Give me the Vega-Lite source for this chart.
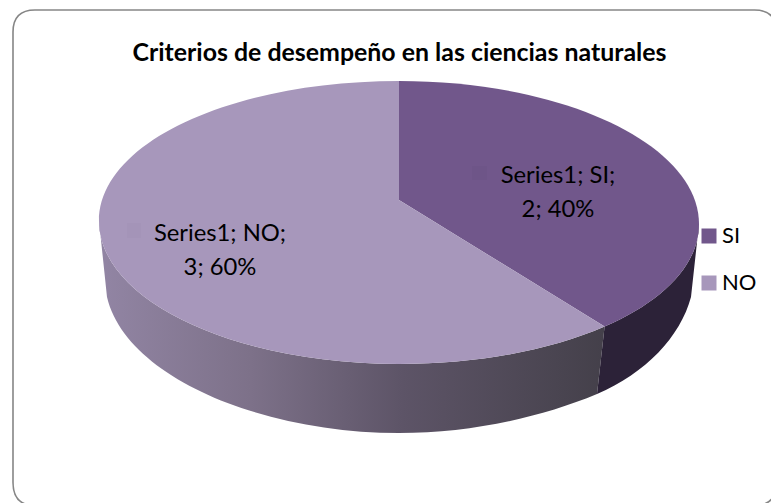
{
"$schema":"https://vega.github.io/schema/vega-lite/v6.json",
"width":771,"height":503,"padding":0,"autosize":{"type":"none"},"background":"white",
"title":{"text":"Criterios de desempeño en las ciencias naturales","font":"Lato","fontSize":24.9,"fontWeight":"bold","color":"#000000","anchor":"middle","frame":"group","dx":14,"offset":-91,"baseline":"bottom"},
"config":{"view":{"stroke":null},"axis":{"disable":true}},
"data":{"values":[
{"category":"SI","value":2,"label":["Series1; SI;","2; 40%"]},
{"category":"NO","value":3,"label":["Series1; NO;","3; 60%"]}
]},
"layer":[
{"data":{"values":[{"part":"frame"}]},"mark":{"type":"point","size":4,"filled":false,"opacity":1,"stroke":"#868686","strokeWidth":1.6,"shape":"M-372.5,-219.5 Q-372.5,-241.5 -350.5,-241.5 L369,-241.5 Q391,-241.5 391,-219.5 L391,231 Q391,254 369,254 L-350.5,254 Q-372.5,254 -372.5,231 Z"},"encoding":{}},
{"mark":{"type":"point","size":1,"filled":true,"opacity":1},
 "encoding":{
  "color":{"field":"category","type":"nominal","sort":["SI","NO"],"scale":{"domain":["SI","NO"],"range":["#71578b","#a797bb"]},
   "legend":{"title":null,"orient":"none","legendX":698,"legendY":225,"symbolType":"square","symbolSize":225,"symbolStrokeWidth":0,"labelFont":"Lato","labelFontSize":22,"labelColor":"#000000","labelOffset":2,"rowPadding":25,"labelLimit":100}}
 }},
{"transform":[{"filter":"datum.category==='NO'"}],"mark":{"type":"point","size":4,"filled":true,"opacity":1,"fill":{"gradient":"linear","x1":0,"y1":0,"x2":1,"y2":0,"stops":[{"offset":0,"color":"#9285a4"},{"offset":0.3,"color":"#7d7189"},{"offset":0.6,"color":"#5d5467"},{"offset":1,"color":"#44404a"}]},"shape":"M219.1,75.1 C165.5,98.5 93.2,112.5 13.5,112.5 C-152.5,112.5 -286.5,48.5 -286.5,-30.5 L-278.5,45.5 C-260,125 -125,181.5 13.5,181.5 C85,181.5 155,166 211.5,142.5 Z"},"encoding":{}},
{"transform":[{"filter":"datum.category==='SI'"}],"mark":{"type":"point","size":4,"filled":true,"opacity":1,"fill":"#2c2238","shape":"M313.5,-27.5 C313.5,13.6 277.3,49.8 219.1,75.1 L211.5,142.5 C260,122 295,85 305.5,45.5 Z"},"encoding":{}},
{"transform":[{"filter":"datum.category==='SI'"}],"mark":{"type":"point","size":4,"filled":true,"opacity":1,"shape":"M13.5,-51.5 L13.5,-170.5 C179.5,-170.5 313.5,-106.5 313.5,-27.5 C313.5,13.6 277.3,49.8 219.1,75.1 Z"},
 "encoding":{"color":{"field":"category","type":"nominal","legend":null}}},
{"transform":[{"filter":"datum.category==='NO'"}],"mark":{"type":"point","size":4,"filled":true,"opacity":1,"shape":"M13.5,-51.5 L219.1,75.1 C165.5,98.5 93.2,112.5 13.5,112.5 C-152.5,112.5 -286.5,48.5 -286.5,-30.5 C-286.5,-109.5 -152.5,-170.5 13.5,-170.5 Z"},
 "encoding":{"color":{"field":"category","type":"nominal","legend":null}}},
{"transform":[{"filter":"datum.category==='SI'"}],"mark":{"type":"point","size":4,"filled":true,"opacity":1,"fill":"#6e5588","shape":"M86.5,-85.5 L101.5,-85.5 L101.5,-71.5 L86.5,-71.5 Z"},"encoding":{}},
{"transform":[{"filter":"datum.category==='NO'"}],"mark":{"type":"point","size":4,"filled":true,"opacity":1,"fill":"#a494b8","shape":"M-258.5,-28.5 L-244.5,-28.5 L-244.5,-13.5 L-258.5,-13.5 Z"},"encoding":{}},
{"transform":[{"filter":"datum.category==='SI'"}],"mark":{"type":"text","font":"Lato","fontSize":23.8,"color":"#000000","align":"center","baseline":"middle","lineHeight":34,"dx":172.5,"dy":-76},"encoding":{"text":{"field":"label"}}},
{"transform":[{"filter":"datum.category==='NO'"}],"mark":{"type":"text","font":"Lato","fontSize":23.8,"color":"#000000","align":"center","baseline":"middle","lineHeight":34,"dx":-165.5,"dy":-18},"encoding":{"text":{"field":"label"}}}
]
}
